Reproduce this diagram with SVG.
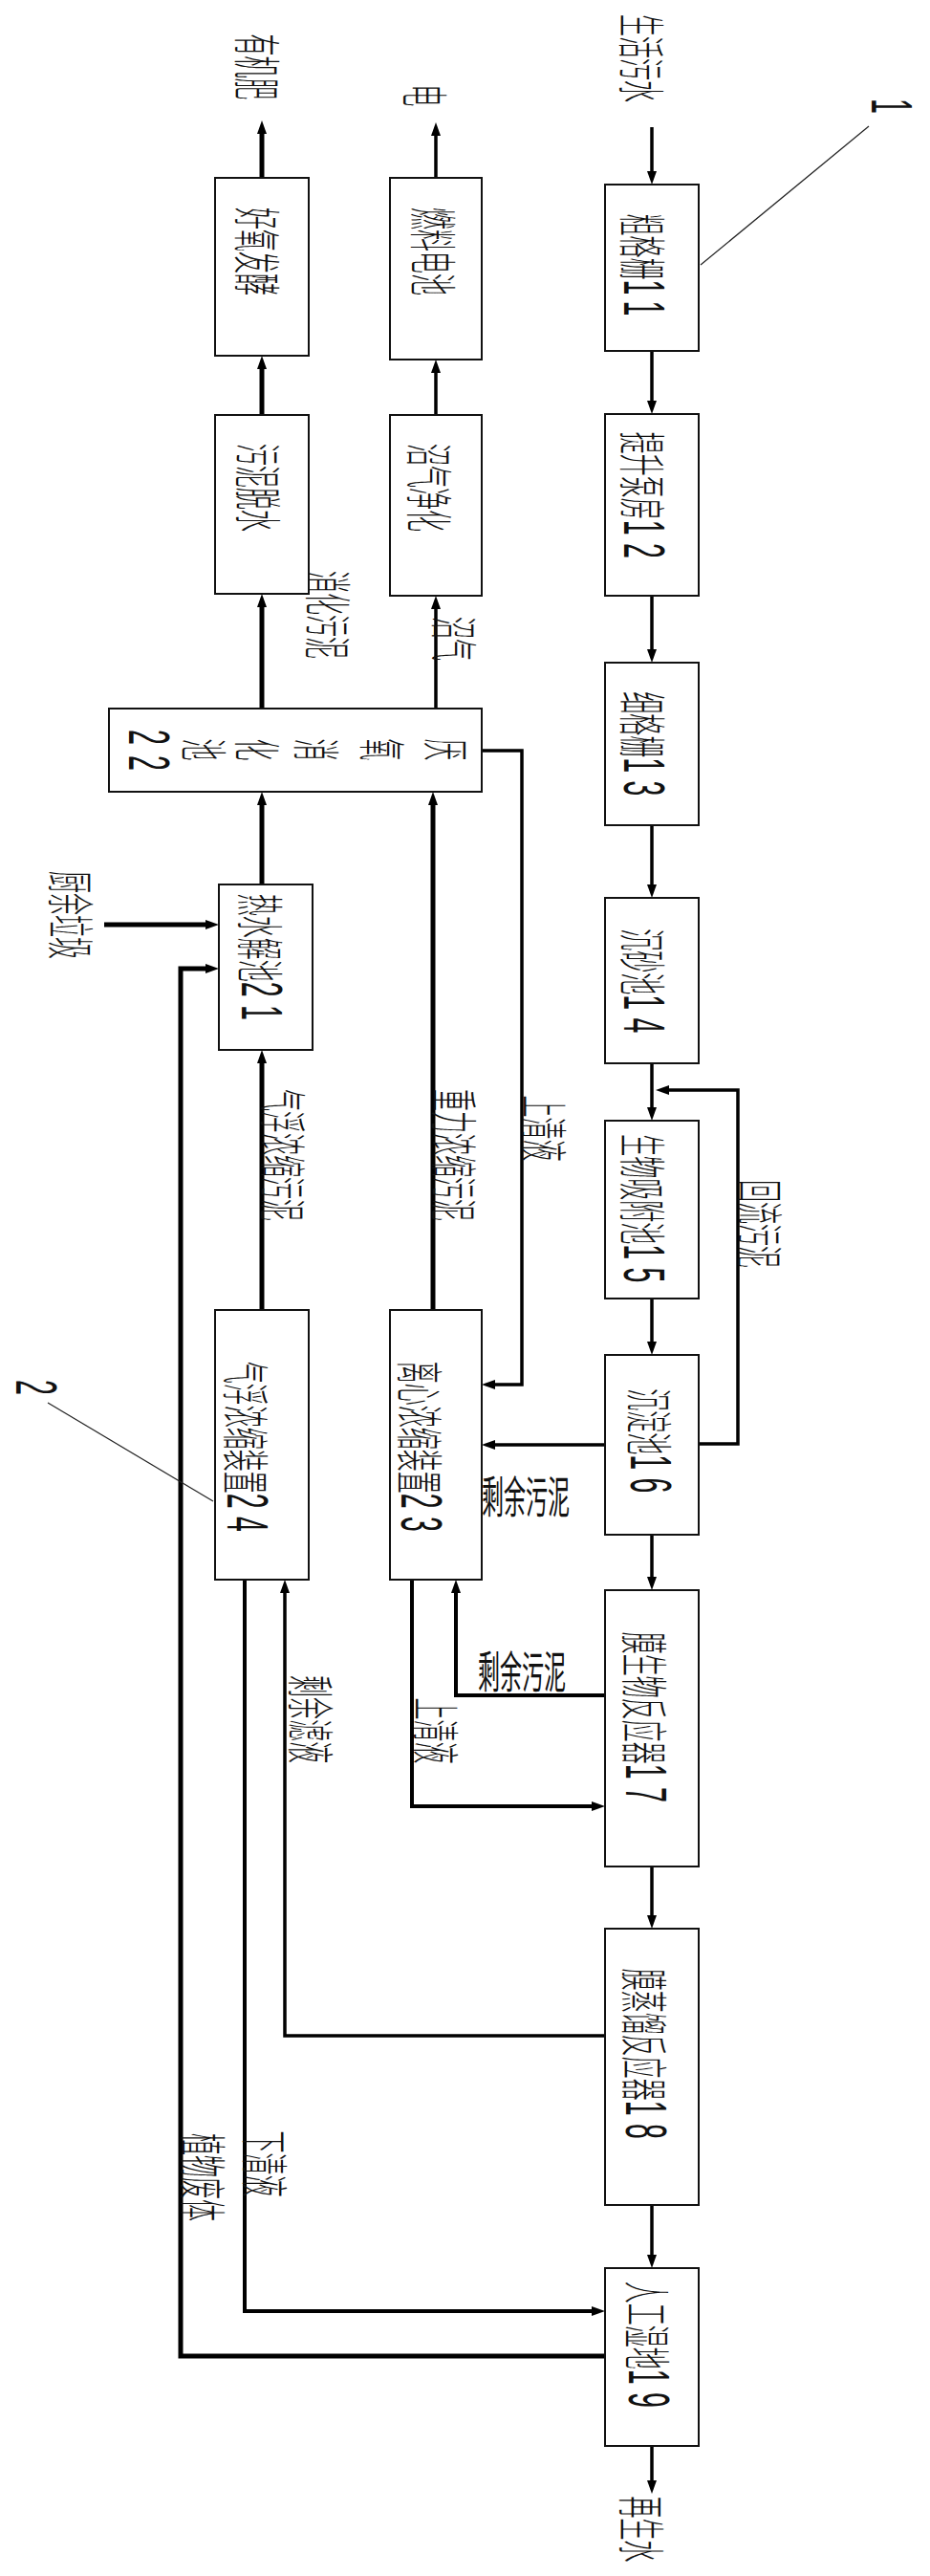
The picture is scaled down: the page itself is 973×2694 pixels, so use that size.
<svg xmlns="http://www.w3.org/2000/svg" width="973" height="2694" viewBox="0 0 973 2694">
<style>
.bx{fill:#fff;stroke:#111;stroke-width:2}
.v{font-family:"Noto Sans CJK SC","Liberation Sans",sans-serif;font-size:50px;font-weight:300;text-anchor:middle;dominant-baseline:central;fill:#111}
.h{font-family:"Noto Sans CJK SC","Liberation Sans",sans-serif;font-size:46px;text-anchor:middle;dominant-baseline:central;fill:#111}
.d{font-family:"Liberation Sans",sans-serif;font-size:62px;font-weight:400;letter-spacing:18px}
.c{fill:none;stroke:#000}
.ld{fill:none;stroke:#222;stroke-width:1.2}
</style>
<defs>
<marker id="ah" viewBox="0 0 14 10" refX="6" refY="5" markerWidth="14" markerHeight="10" markerUnits="userSpaceOnUse" orient="auto"><path d="M0,0 L14,5 L0,10 z" fill="#000"/></marker>
</defs>
<rect width="973" height="2694" fill="#fff"/>

<g id="connectors">
<g stroke-width="3.5" class="c" marker-end="url(#ah)">
<path class="c" d="M682,133 V185"/>
<path class="c" d="M682,367 V425"/>
<path class="c" d="M682,623 V685"/>
<path class="c" d="M682,863 V931"/>
<path class="c" d="M682,1112 V1164"/>
<path class="c" d="M682,1358 V1409"/>
<path class="c" d="M682,1605 V1655"/>
<path class="c" d="M682,1952 V2009"/>
<path class="c" d="M682,2306 V2364"/>
<path class="c" d="M682,2558 V2600"/>
<path class="c" d="M456,186 V136"/>
<path class="c" d="M456,434 V384"/>
<path class="c" d="M456,741 V631"/>
<path class="c" d="M504,785 H546 V1448 H512"/>
<path class="c" d="M633,1511 H512"/>
<path class="c" d="M731,1510 H772 V1140 H694"/>
<path class="c" d="M633,2129 H298 V1660"/>
</g>
<g stroke-width="4" class="c" marker-end="url(#ah)">
<path class="c" d="M633,1773 H477 V1660"/>
<path class="c" d="M431,1652 V1889 H625"/>
<path class="c" d="M256,1652 V2417 H625"/>
</g>
<g stroke-width="5" class="c" marker-end="url(#ah)">
<path class="c" d="M274,186 V134"/>
<path class="c" d="M274,434 V380"/>
<path class="c" d="M274,741 V629"/>
<path class="c" d="M274,925 V836"/>
<path class="c" d="M274,1370 V1106"/>
<path class="c" d="M453,1370 V836"/>
<path class="c" d="M109,967 H221"/>
<path class="c" d="M633,2464 H189 V1013 H221"/>
</g>
<path class="ld" d="M909,132 L733,277"/>
<path class="ld" d="M50,1467 L223,1570"/>
</g>

<g id="labels">
<text class="v" transform="translate(674,61) rotate(90) scale(0.46,1)">生活污水</text>
<text class="v" transform="translate(272,70) rotate(90) scale(0.46,1)">有机肥</text>
<text class="v" transform="translate(447,100) rotate(90) scale(0.46,1)">电</text>
<text class="v" transform="translate(346,643) rotate(90) scale(0.46,1)">消化污泥</text>
<text class="v" transform="translate(478,668) rotate(90) scale(0.46,1)">沼气</text>
<text class="v" transform="translate(77,957) rotate(90) scale(0.46,1)">厨余垃圾</text>
<text class="v" transform="translate(299,1208) rotate(90) scale(0.46,1)">气浮浓缩污泥</text>
<text class="v" transform="translate(478,1208) rotate(90) scale(0.46,1)">重力浓缩污泥</text>
<text class="v" transform="translate(572,1180) rotate(90) scale(0.46,1)">上清液</text>
<text class="v" transform="translate(798,1280) rotate(90) scale(0.46,1)">回流污泥</text>
<text class="h" transform="translate(550,1562) scale(0.5,1)">剩余污泥</text>
<text class="h" transform="translate(546,1745) scale(0.5,1)">剩余污泥</text>
<text class="v" transform="translate(328,1798) rotate(90) scale(0.46,1)">剩余滤液</text>
<text class="v" transform="translate(459,1810) rotate(90) scale(0.46,1)">上清液</text>
<text class="v" transform="translate(280,2263) rotate(90) scale(0.46,1)">下清液</text>
<text class="v" transform="translate(215,2277) rotate(90) scale(0.46,1)">植物废体</text>
<text class="v" transform="translate(674,2645) rotate(90) scale(0.46,1)">再生水</text>
<text class="v" transform="translate(934,115) rotate(90) scale(0.46,1)"><tspan class="d">1</tspan></text>
<text class="v" transform="translate(39,1455) rotate(90) scale(0.46,1)"><tspan class="d">2</tspan></text>
</g>

<g id="n11"><rect class="bx" x="633" y="193" width="98" height="174"/><text class="v" transform="translate(675,281) rotate(90) scale(0.46,1)">粗格栅<tspan class="d">11</tspan></text></g>
<g id="n12"><rect class="bx" x="633" y="433" width="98" height="190"/><text class="v" transform="translate(675,522) rotate(90) scale(0.46,1)">提升泵房<tspan class="d">12</tspan></text></g>
<g id="n13"><rect class="bx" x="633" y="693" width="98" height="170"/><text class="v" transform="translate(675,782) rotate(90) scale(0.46,1)">细格栅<tspan class="d">13</tspan></text></g>
<g id="n14"><rect class="bx" x="633" y="939" width="98" height="173"/><text class="v" transform="translate(675,1030) rotate(90) scale(0.46,1)">沉砂池<tspan class="d">14</tspan></text></g>
<g id="n15"><rect class="bx" x="633" y="1172" width="98" height="186"/><text class="v" transform="translate(675,1268) rotate(90) scale(0.46,1)">生物吸附池<tspan class="d">15</tspan></text></g>
<g id="n16"><rect class="bx" x="633" y="1417" width="98" height="188"/><text class="v" transform="translate(682,1511) rotate(90) scale(0.46,1)">沉淀池<tspan class="d">16</tspan></text></g>
<g id="n17"><rect class="bx" x="633" y="1663" width="98" height="289"/><text class="v" transform="translate(677,1800) rotate(90) scale(0.46,1)">膜生物反应器<tspan class="d">17</tspan></text></g>
<g id="n18"><rect class="bx" x="633" y="2017" width="98" height="289"/><text class="v" transform="translate(677,2152) rotate(90) scale(0.46,1)">膜蒸馏反应器<tspan class="d">18</tspan></text></g>
<g id="n19"><rect class="bx" x="633" y="2372" width="98" height="186"/><text class="v" transform="translate(680,2456) rotate(90) scale(0.46,1)">人工湿地<tspan class="d">19</tspan></text></g>

<g id="n-fermentation"><rect class="bx" x="225" y="186" width="98" height="186"/><text class="v" transform="translate(272,263) rotate(90) scale(0.46,1)">好氧发酵</text></g>
<g id="n-fuelcell"><rect class="bx" x="408" y="186" width="96" height="190"/><text class="v" transform="translate(456,263) rotate(90) scale(0.46,1)">燃料电池</text></g>
<g id="n-dewater"><rect class="bx" x="225" y="434" width="98" height="187"/><text class="v" transform="translate(273,510) rotate(90) scale(0.46,1)">污泥脱水</text></g>
<g id="n-biogas"><rect class="bx" x="408" y="434" width="96" height="189"/><text class="v" transform="translate(452,510) rotate(90) scale(0.46,1)">沼气净化</text></g>

<g id="n22"><rect class="bx" x="114" y="741" width="390" height="87"/>
<text class="v" transform="translate(470,784) rotate(90) scale(0.46,1)">厌</text>
<text class="v" transform="translate(403,784) rotate(90) scale(0.46,1)">氧</text>
<text class="v" transform="translate(334,784) rotate(90) scale(0.46,1)">消</text>
<text class="v" transform="translate(272,784) rotate(90) scale(0.46,1)">化</text>
<text class="v" transform="translate(216,784) rotate(90) scale(0.46,1)">池</text>
<text class="v" transform="translate(157,790) rotate(90) scale(0.46,1)"><tspan class="d" style="letter-spacing:24px">22</tspan></text>
</g>
<g id="n21"><rect class="bx" x="229" y="925" width="98" height="173"/><text class="v" transform="translate(275,1005) rotate(90) scale(0.46,1)">热水解池<tspan class="d">21</tspan></text></g>
<g id="n24"><rect class="bx" x="225" y="1370" width="98" height="282"/><text class="v" transform="translate(260,1517) rotate(90) scale(0.46,1)">气浮浓缩装置<tspan class="d">24</tspan></text></g>
<g id="n23"><rect class="bx" x="408" y="1370" width="96" height="282"/><text class="v" transform="translate(442,1517) rotate(90) scale(0.46,1)">离心浓缩装置<tspan class="d">23</tspan></text></g>
</svg>
